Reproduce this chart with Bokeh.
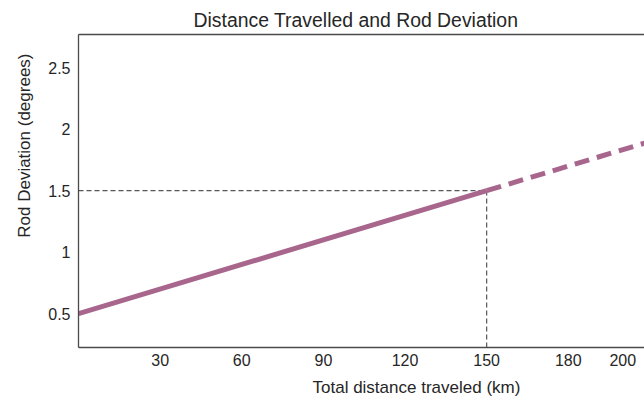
from bokeh.plotting import figure
from bokeh.models import LinearAxis, FixedTicker, Range1d, Title
from bokeh.embed import file_html
from bokeh.resources import INLINE

# data
solid_x = [0, 150]
solid_y = [0.5, 1.5]
dash_x = [150, 215]
dash_y = [1.5, 0.5 + 215 / 150]
ref_x = 150
ref_y = 1.5
x_ticks = [30, 60, 90, 120, 150, 180, 200]
y_ticks = [0.5, 1, 1.5, 2, 2.5]
x_lo, x_hi = 0, 208
y_lo, y_hi = 0.225, 2.77

FONT = "Liberation Sans"
LINE_COLOR = "#a8668c"
AX = "#4a4a4a"
TXT = "#262626"

p = figure(width=644, height=407, output_backend="svg", toolbar_location=None,
           x_range=Range1d(x_lo, x_hi), y_range=Range1d(y_lo, y_hi),
           min_border_left=78, min_border_right=0, min_border_top=34, min_border_bottom=60)
p.outline_line_color = None
p.grid.visible = False
p.background_fill_color = "white"
p.border_fill_color = "white"

for ax in (p.xaxis[0], p.yaxis[0]):
    ax.major_tick_line_color = None
    ax.minor_tick_line_color = None
    ax.major_tick_out = 0
    ax.major_tick_in = 0
    ax.axis_line_color = AX
    ax.axis_line_width = 1.3
    ax.major_label_text_font = FONT
    ax.major_label_text_font_size = "16px"
    ax.major_label_text_color = TXT

p.xaxis[0].ticker = FixedTicker(ticks=x_ticks)
p.yaxis[0].ticker = FixedTicker(ticks=y_ticks)
p.xaxis[0].major_label_standoff = 6
p.yaxis[0].major_label_standoff = 8

top = LinearAxis(ticker=FixedTicker(ticks=[]), major_label_text_font_size="0px",
                 axis_line_color=AX, axis_line_width=1.3,
                 major_tick_line_color=None, minor_tick_line_color=None,
                 major_tick_out=0, major_label_standoff=0)
p.add_layout(top, "above")

title = Title(text="Distance Travelled and Rod Deviation", align="left", offset=115,
              text_font=FONT, text_font_size="19.4px", text_font_style="normal",
              text_color=TXT, standoff=8)
p.add_layout(title, "above")

ylab = Title(text="Rod Deviation (degrees)", align="right", offset=19,
             text_font=FONT, text_font_size="17px", text_font_style="normal",
             text_color=TXT, standoff=24)
p.add_layout(ylab, "left")

xlab = Title(text="Total distance traveled (km)", align="left", offset=234,
             text_font=FONT, text_font_size="17px", text_font_style="normal",
             text_color=TXT, standoff=14)
p.add_layout(xlab, "below")

# reference lines
p.line([x_lo, ref_x], [ref_y, ref_y], line_color="#555555", line_width=1.2, line_dash="5 3")
p.line([ref_x, ref_x], [y_lo, ref_y], line_color="#555555", line_width=1.2, line_dash="5 3")

p.line(solid_x, solid_y, line_color=LINE_COLOR, line_width=5)
p.line(dash_x, dash_y, line_color=LINE_COLOR, line_width=5, line_dash="15 8")

open("out.html", "w").write(file_html(p, INLINE))
